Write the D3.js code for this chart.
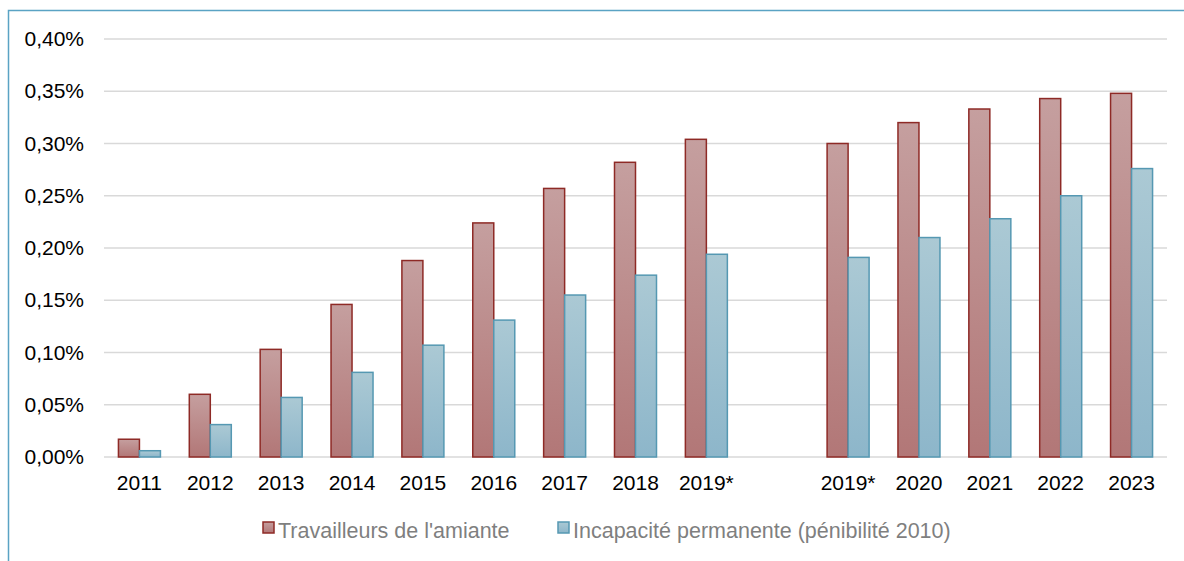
<!DOCTYPE html>
<html>
<head>
<meta charset="utf-8">
<script src="https://cdn.jsdelivr.net/npm/d3@7"></script>
<style>
  body { margin: 0; background: #fff; }
  svg text { font-family: "Liberation Sans", Arial, sans-serif; }
</style>
</head>
<body>
<svg id="chart" width="1184" height="561"></svg>
<script>
// categories (the empty slot separates the two 2019* series)
const categories = ["2011", "2012", "2013", "2014", "2015", "2016", "2017", "2018", "2019*", "", "2019* ", "2020", "2021", "2022", "2023"];
const amiante = [0.017, 0.060, 0.103, 0.146, 0.188, 0.224, 0.257, 0.282, 0.304, null, 0.300, 0.320, 0.333, 0.343, 0.348];
const incapacite = [0.006, 0.031, 0.057, 0.081, 0.107, 0.131, 0.155, 0.174, 0.194, null, 0.191, 0.210, 0.228, 0.250, 0.276];
const yTicks = [0, 0.05, 0.10, 0.15, 0.20, 0.25, 0.30, 0.35, 0.40];
const seriesNames = ["Travailleurs de l'amiante", "Incapacité permanente (pénibilité 2010)"];

const svg = d3.select('#chart');

// gradients for the bar fills
const defs = svg.append('defs');
function addGradient(id, top, bottom) {
    const g = defs.append('linearGradient').attr('id', id)
        .attr('x1', 0).attr('y1', 0).attr('x2', 0).attr('y2', 1);
    g.append('stop').attr('offset', '0%').attr('stop-color', top);
    g.append('stop').attr('offset', '100%').attr('stop-color', bottom);
}
addGradient('gradRed', '#c59f9f', '#b27777');
addGradient('gradBlue', '#abc9d4', '#8db6ca');

const series = [
    { name: seriesNames[0], values: amiante, fill: 'url(#gradRed)', stroke: '#8e2a26' },
    { name: seriesNames[1], values: incapacite, fill: 'url(#gradBlue)', stroke: '#5598b2' }
];

// outer frame (left and top edges visible)
svg.append('path')
    .attr('d', 'M8.5,561 L8.5,10.5 L1184,10.5')
    .attr('fill', 'none')
    .attr('stroke', '#5aa3c4')
    .attr('stroke-width', 1.5);

const x = d3.scaleBand().domain(categories).range([104, 1167]);
const y = d3.scaleLinear().domain([0, 0.40]).range([457, 39]);
const barW = 21;

// gridlines
svg.append('g').selectAll('line')
    .data(yTicks)
    .enter()
    .append('line')
    .attr('x1', 104).attr('x2', 1167)
    .attr('y1', d => y(d)).attr('y2', d => y(d))
    .attr('stroke', '#d9d9d9')
    .attr('stroke-width', 1.5);

// y axis labels
svg.append('g').selectAll('text')
    .data(yTicks)
    .enter()
    .append('text')
    .attr('x', 84)
    .attr('y', d => y(d) + 7)
    .attr('text-anchor', 'end')
    .attr('font-size', 21)
    .attr('fill', '#000')
    .text(d => d3.format('.2f')(d).replace('.', ',') + '%');

// x axis labels
svg.append('g').selectAll('text')
    .data(categories)
    .enter()
    .append('text')
    .attr('x', d => x(d) + x.bandwidth() / 2)
    .attr('y', 490)
    .attr('text-anchor', 'middle')
    .attr('font-size', 21)
    .attr('fill', '#000')
    .text(d => d.trim());

// bars
series.forEach((s, i) => {
    svg.append('g').selectAll('rect')
        .data(categories.map((c, j) => ({ c, v: s.values[j] })).filter(d => d.v !== null))
        .enter()
        .append('rect')
        .attr('x', d => x(d.c) + x.bandwidth() / 2 - barW + i * barW)
        .attr('y', d => y(d.v))
        .attr('width', barW)
        .attr('height', d => y(0) - y(d.v))
        .attr('fill', s.fill)
        .attr('stroke', s.stroke)
        .attr('stroke-width', 1.5);
});

// legend
const legendX = [263, 558];
series.forEach((s, i) => {
    svg.append('rect')
        .attr('x', legendX[i]).attr('y', 522)
        .attr('width', 11).attr('height', 11)
        .attr('fill', s.fill)
        .attr('stroke', s.stroke)
        .attr('stroke-width', 1.5);
    svg.append('text')
        .attr('x', legendX[i] + 15)
        .attr('y', 538)
        .attr('font-size', 21.5)
        .attr('fill', '#7f7f7f')
        .text(s.name);
});
</script>
</body>
</html>
